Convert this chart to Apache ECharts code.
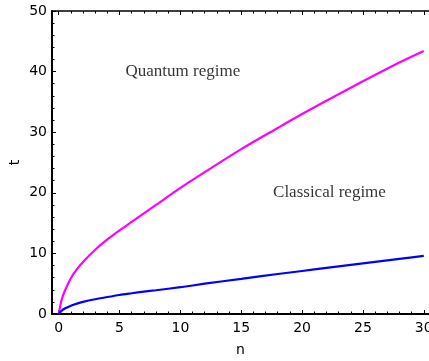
<!DOCTYPE html>
<html>
<head>
<meta charset="utf-8">
<script src="https://cdn.jsdelivr.net/npm/echarts@6/dist/echarts.min.js"></script>
<style>
  html, body {margin: 0; padding: 0; background: #fff;}
  #main {width: 429px; height: 361px;}
</style>
</head>
<body>
<div id="main"></div>
<script>
// values
const nValues = [0, 0.25, 0.5, 1, 1.5, 2, 3, 4, 5, 6, 7, 8, 10, 12, 15, 18, 20, 22, 25, 28, 30];
const quantumT = [0, 2.4, 3.8, 5.9, 7.4, 8.6, 10.6, 12.3, 13.8, 15.2, 16.6, 18.0, 20.8, 23.4, 27.2, 30.7, 33.0, 35.2, 38.4, 41.5, 43.4];
const classicalT = [0, 0.55, 0.9, 1.37, 1.72, 2.0, 2.43, 2.8, 3.14, 3.42, 3.69, 3.92, 4.42, 5.0, 5.8, 6.6, 7.1, 7.6, 8.35, 9.1, 9.6];
const xTicks = [0, 5, 10, 15, 20, 25, 30];
const yTicks = [0, 10, 20, 30, 40, 50];
const notes = [
  {name: 'Quantum regime', value: [10.2, 40]},
  {name: 'Classical regime', value: [22.25, 20.1]},
];

const sans = 'DejaVu Sans';
const serif = 'Liberation Serif';
const black = '#000';

const myChart = echarts.init(document.getElementById('main'));

const tickStyle = {show: true, inside: true, length: 4, lineStyle: {color: black, width: 1}};
const minorStyle = {show: true, splitNumber: 5, length: 2.5, lineStyle: {color: black, width: 1}};

myChart.setOption({
  animation: false,
  backgroundColor: '#fff',
  grid: [
    // frame grid: starts at the drawn axis line
    {left: 52, right: 0, top: 11, bottom: 47, outerBoundsMode: 'none', containLabel: false},
    // data grid: n = 0 sits a little right of the frame
    {left: 58.7, right: 0, top: 11, bottom: 47, outerBoundsMode: 'none', containLabel: false},
  ],
  xAxis: [
    {
      gridIndex: 0, type: 'value', min: 0, max: 1, position: 'bottom',
      axisLine: {lineStyle: {color: black, width: 2}},
      axisTick: {show: false}, axisLabel: {show: false}, splitLine: {show: false},
      name: 'n', nameLocation: 'middle', nameGap: 29, nameMoveOverlap: false,
      nameTextStyle: {fontFamily: sans, fontSize: 14, color: black},
    },
    {
      gridIndex: 0, type: 'value', min: 0, max: 1, position: 'top',
      axisLine: {lineStyle: {color: black, width: 1.5}},
      axisTick: {show: false}, axisLabel: {show: false}, splitLine: {show: false},
    },
    {
      gridIndex: 1, type: 'value', min: 0, max: 30.43, interval: 5, position: 'bottom',
      axisLine: {show: false},
      axisTick: tickStyle,
      minorTick: minorStyle,
      splitLine: {show: false},
      axisLabel: {
        margin: 7, fontFamily: sans, fontSize: 14, color: black,
        showMaxLabel: false,
        formatter: v => (xTicks.includes(v) ? String(v) : ''),
      },
    },
    {
      gridIndex: 1, type: 'value', min: 0, max: 30.43, interval: 5, position: 'top',
      axisLine: {show: false},
      axisTick: tickStyle,
      minorTick: minorStyle,
      splitLine: {show: false},
      axisLabel: {show: false},
    },
  ],
  yAxis: [
    {
      gridIndex: 0, type: 'value', min: 0, max: 50, interval: 10,
      axisLine: {show: true, lineStyle: {color: black, width: 2}},
      axisTick: tickStyle,
      minorTick: minorStyle,
      splitLine: {show: false},
      axisLabel: {
        margin: 5, fontFamily: sans, fontSize: 14, color: black,
        formatter: v => (yTicks.includes(v) ? String(v) : ''),
      },
      name: 't', nameLocation: 'middle', nameGap: 30, nameMoveOverlap: false,
      nameTextStyle: {fontFamily: sans, fontSize: 14, color: black},
    },
    {
      gridIndex: 1, type: 'value', min: 0, max: 50,
      axisLine: {show: false}, axisTick: {show: false},
      axisLabel: {show: false}, splitLine: {show: false},
    },
  ],
  series: [
    {
      type: 'line', xAxisIndex: 2, yAxisIndex: 1,
      data: nValues.map((n, i) => [n, quantumT[i]]),
      smooth: 0.3, showSymbol: false,
      lineStyle: {color: '#ff00ff', width: 2.2},
    },
    {
      type: 'line', xAxisIndex: 2, yAxisIndex: 1,
      data: nValues.map((n, i) => [n, classicalT[i]]),
      smooth: 0.3, showSymbol: false,
      lineStyle: {color: '#0000ff', width: 2.2},
    },
    {
      type: 'scatter', xAxisIndex: 2, yAxisIndex: 1,
      data: notes, symbolSize: 0, silent: true,
      label: {
        show: true, position: 'inside', formatter: '{b}',
        fontFamily: serif, fontSize: 17, color: black,
      },
    },
  ],
});
</script>
</body>
</html>
